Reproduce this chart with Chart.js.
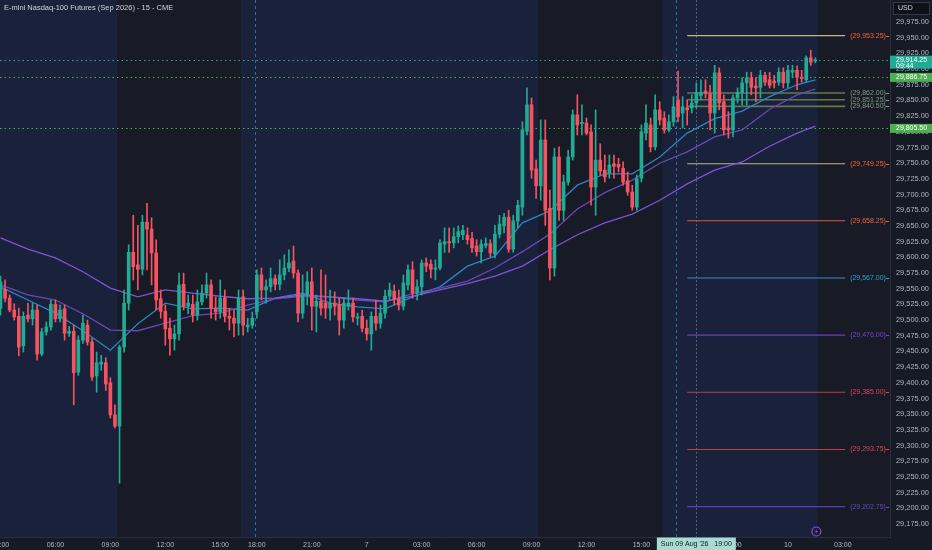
<!DOCTYPE html>
<html>
<head>
<meta charset="utf-8">
<script src="https://cdn.jsdelivr.net/npm/chart.js@4.4.1/dist/chart.umd.min.js"></script>
<style>
  html, body { margin: 0; padding: 0; background: #161a25; }
  canvas { display: block; }
</style>
</head>
<body>
<canvas id="chart" width="932" height="550"></canvas>
<script>
// 15 min bars, Thu 03:00 -> Mon 01:30 (index 0..178)
const opens = [29519,29549,29535,29516,29506,29459,29508,29502,29516,29446,29481,29489,29525,29502,29518,29479,29482,29417,29468,29492,
  29465,29411,29430,29432,29400,29349,29331,29457,29527,29608,29588,29581,29656,29645,29607,29534,29514,29487,29470,29478,
  29557,29522,29525,29508,29529,29543,29556,29519,29513,29535,29506,29503,29495,29537,29489,29492,29513,29572,29548,29553,
  29566,29557,29572,29583,29594,29575,29511,29540,29561,29522,29530,29527,29519,29527,29525,29500,29522,29527,29503,29506,
  29487,29478,29506,29495,29511,29538,29546,29533,29522,29556,29580,29543,29553,29591,29589,29581,29583,29621,29625,29623,
  29633,29636,29635,29630,29618,29609,29619,29622,29605,29637,29650,29664,29613,29658,29680,29801,29843,29741,29714,29787,
  29678,29583,29760,29675,29720,29760,29827,29813,29814,29800,29712,29755,29739,29734,29749,29748,29742,29722,29704,29680,
  29726,29798,29811,29776,29835,29822,29803,29816,29851,29830,29838,29838,29846,29858,29865,29861,29830,29894,29848,29806,
  29803,29854,29863,29878,29886,29873,29871,29890,29883,29881,29879,29895,29878,29895,29898,29887,29883,29918,29913];
const highs = [29570,29564,29540,29526,29519,29513,29527,29527,29524,29487,29497,29532,29532,29524,29524,29490,29492,29475,29508,29500,
  29471,29449,29444,29440,29408,29365,29460,29548,29620,29667,29651,29667,29686,29663,29628,29548,29524,29503,29492,29575,
  29575,29540,29540,29548,29556,29575,29564,29537,29564,29548,29519,29516,29548,29548,29503,29513,29580,29583,29564,29583,
  29572,29596,29604,29612,29618,29580,29572,29577,29583,29540,29580,29572,29548,29545,29535,29535,29548,29535,29511,29516,
  29500,29513,29532,29524,29548,29559,29556,29548,29572,29588,29593,29564,29596,29599,29596,29596,29628,29647,29647,29647,
  29650,29651,29647,29640,29628,29628,29631,29628,29651,29667,29670,29675,29667,29691,29816,29870,29854,29755,29819,29819,
  29707,29774,29776,29731,29771,29835,29859,29843,29822,29811,29835,29781,29763,29763,29763,29758,29752,29736,29715,29731,
  29811,29843,29822,29859,29848,29832,29827,29856,29897,29856,29851,29859,29878,29883,29883,29874,29906,29902,29859,29832,
  29859,29870,29886,29895,29895,29886,29898,29895,29895,29890,29902,29902,29906,29906,29905,29898,29921,29930,29918];
const lows = [29508,29529,29513,29500,29443,29449,29497,29492,29436,29443,29476,29484,29497,29497,29468,29474,29365,29412,29463,29460,
  29404,29385,29420,29388,29344,29328,29240,29449,29516,29564,29548,29572,29580,29556,29516,29503,29460,29444,29452,29468,
  29516,29510,29497,29500,29524,29535,29503,29500,29503,29497,29484,29473,29476,29476,29481,29487,29503,29532,29527,29545,
  29548,29548,29564,29577,29567,29497,29503,29524,29484,29481,29508,29503,29500,29508,29476,29487,29516,29497,29492,29481,
  29468,29452,29484,29487,29503,29532,29524,29516,29516,29548,29535,29532,29540,29577,29567,29564,29580,29608,29608,29615,
  29623,29628,29621,29608,29602,29591,29615,29601,29599,29631,29639,29608,29608,29647,29667,29795,29726,29694,29691,29651,
  29564,29570,29659,29659,29715,29755,29795,29795,29795,29683,29667,29731,29720,29726,29726,29736,29715,29699,29675,29675,
  29720,29787,29768,29771,29811,29798,29800,29809,29816,29806,29811,29830,29838,29851,29854,29803,29798,29835,29795,29790,
  29792,29846,29843,29843,29859,29848,29854,29874,29870,29870,29874,29870,29870,29886,29867,29879,29879,29906,29910];
const closes = [29561,29535,29516,29505,29457,29506,29502,29516,29446,29481,29489,29525,29502,29516,29479,29482,29416,29468,29495,29465,
  29409,29432,29433,29398,29349,29331,29457,29527,29608,29585,29581,29656,29645,29607,29532,29514,29486,29470,29478,29556,
  29522,29527,29508,29529,29543,29556,29519,29513,29535,29506,29503,29495,29535,29492,29492,29503,29572,29548,29553,29566,
  29557,29572,29583,29591,29575,29511,29540,29561,29522,29530,29519,29519,29527,29522,29500,29527,29527,29505,29505,29487,
  29478,29506,29495,29511,29538,29548,29533,29524,29559,29580,29543,29553,29591,29586,29581,29583,29623,29625,29623,29633,
  29641,29643,29628,29615,29609,29621,29622,29607,29637,29653,29664,29613,29658,29683,29803,29843,29739,29714,29787,29675,
  29583,29760,29675,29720,29760,29827,29811,29815,29798,29712,29755,29738,29728,29747,29745,29744,29720,29704,29680,29725,
  29800,29814,29776,29835,29819,29803,29816,29840,29824,29840,29835,29846,29863,29863,29861,29830,29894,29846,29803,29803,
  29854,29863,29878,29886,29871,29870,29890,29879,29874,29878,29895,29878,29898,29898,29887,29885,29918,29911,29914.25];

// moving averages every 6 bars
const maIdx  = [0,6,12,18,24,30,36,42,48,54,60,66,72,78,84,90,96,102,108,114,120,126,132,138,144,150,156,162,168,174,178];
const maFast = [29553,29532,29511,29483,29452,29494,29527,29518,29519,29516,29535,29543,29527,29521,29518,29537,29553,29586,29602,29655,29674,29715,29733,29733,29760,29798,29821,29833,29856,29875,29883];
const maMid  = [29556,29540,29532,29510,29484,29483,29495,29507,29511,29524,29534,29538,29537,29532,29529,29542,29551,29562,29583,29609,29637,29677,29703,29723,29750,29768,29792,29803,29836,29859,29868];
const maSlow = [29631,29613,29599,29577,29551,29537,29548,29543,29538,29534,29535,29540,29537,29534,29530,29538,29548,29558,29570,29586,29612,29636,29655,29669,29691,29717,29739,29752,29777,29798,29809];

const timeTickIdx = [0,12,24,36,48,56,68,80,92,104,116,128,140,148,160,172,184];
const timeTickLabels = ['03:00','06:00','09:00','12:00','15:00','18:00','21:00','7','03:00','06:00','09:00','12:00','15:00','18:00','21:00','10','03:00'];
const priceTicks = [29175,29200,29225,29250,29275,29300,29325,29350,29375,29400,29425,29450,29475,29500,29525,29550,29575,
  29600,29625,29650,29675,29700,29725,29750,29775,29800,29825,29850,29875,29900,29925,29950,29975];

const levelPrices = [29953.25,29862.00,29851.25,29840.50,29749.25,29658.25,29567.00,29476.00,29385.00,29293.75,29202.75];
const levelFrom = 150, levelTo = 184.5;

const lastPrice = 29914.25;
const countdown = '09:44';
const maMarks = [29886.75, 29805.50];

const rthSessions = [[25.5,52.5],[117.5,144.5],[178.5,200]];
const sessionBreaks = [55.5,147.5];
const crosshairIdx = 152;
const crosshairText = "Sun 09 Aug '26   19:00";
const title = 'E-mini Nasdaq-100 Futures (Sep 2026) - 15 - CME';

// styles
const UP = '#22ab94', DOWN = '#f7525f';
const levelLine = ['#bdb983','#66774f','#66774f','#66774f','#bdb983','#e0553f','#2f8bd6','#6a3fc0','#c43a4b','#c43a4b','#5b3cc4'];
const levelText = ['#f0603c','#7f9b80','#7f9b80','#7f9b80','#f0603c','#f0603c','#29a0d8','#6f47c8','#d9455a','#d9455a','#6247c0'];
const FONT = "'Liberation Sans', Arial, sans-serif";
Chart.defaults.font.family = FONT;

function fmt(v) {
  return v.toLocaleString('en-US', {minimumFractionDigits: 2, maximumFractionDigits: 2});
}

const bars = closes.map(function (c, i) { return i; });
const candleColors = closes.map(function (c, i) { return c >= opens[i] ? UP : DOWN; });

const datasets = [];
datasets.push({type: 'bar', data: bars.map(i => ({x: i, y: [opens[i], closes[i]]})),
  backgroundColor: candleColors, barThickness: 3, minBarLength: 1, grouped: false, order: 0});
datasets.push({type: 'bar', data: bars.map(i => ({x: i, y: [lows[i], highs[i]]})),
  backgroundColor: candleColors, barThickness: 1, grouped: false, order: 1});
[[maSlow,'#7f52d9'],[maMid,'#6947b5'],[maFast,'#2a84c6']].forEach(function (m) {
  datasets.push({type: 'line', data: maIdx.map((x, k) => ({x: x, y: m[0][k]})),
    borderColor: m[1], borderWidth: 1.3, pointRadius: 0, order: 3});
});
levelPrices.forEach(function (p, k) {
  datasets.push({type: 'line', data: [{x: levelFrom, y: p}, {x: levelTo, y: p}],
    borderColor: levelLine[k], borderWidth: (k >= 1 && k <= 3) ? 1.6 : 1.1, pointRadius: 0, order: 4});
});

const sessionPlugin = {
  id: 'sessions',
  beforeDraw(chart) {
    const ctx = chart.ctx, a = chart.chartArea, xs = chart.scales.x;
    ctx.save();
    ctx.fillStyle = '#161a25';
    ctx.fillRect(0, 0, chart.width, chart.height);
    ctx.fillStyle = '#19223a';
    ctx.fillRect(a.left, a.top, a.right - a.left, a.bottom - a.top);
    ctx.fillStyle = '#181b26';
    rthSessions.forEach(function (s) {
      const x1 = Math.max(a.left, xs.getPixelForValue(s[0]));
      const x2 = Math.min(a.right, xs.getPixelForValue(s[1]));
      ctx.fillRect(x1, a.top, x2 - x1, a.bottom - a.top);
    });
    ctx.restore();
  },
  beforeDatasetsDraw(chart) {
    const ctx = chart.ctx, a = chart.chartArea, xs = chart.scales.x, ys = chart.scales.y;
    ctx.save();
    ctx.lineWidth = 1;
    ctx.strokeStyle = '#2b6ea6';
    ctx.setLineDash([3, 3]);
    sessionBreaks.forEach(function (b) {
      const x = Math.round(xs.getPixelForValue(b)) + 0.5;
      ctx.beginPath(); ctx.moveTo(x, a.top); ctx.lineTo(x, a.bottom); ctx.stroke();
    });
    ctx.strokeStyle = '#4f5d78';
    ctx.setLineDash([2, 2]);
    const cx = Math.round(xs.getPixelForValue(crosshairIdx)) + 0.5;
    ctx.beginPath(); ctx.moveTo(cx, a.top); ctx.lineTo(cx, a.bottom); ctx.stroke();
    // price lines
    ctx.setLineDash([1.5, 3]);
    ctx.strokeStyle = UP;
    let y = Math.round(ys.getPixelForValue(lastPrice)) + 0.5;
    ctx.beginPath(); ctx.moveTo(a.left, y); ctx.lineTo(a.right, y); ctx.stroke();
    ctx.strokeStyle = '#4caf50';
    maMarks.forEach(function (p) {
      const yy = Math.round(ys.getPixelForValue(p)) + 0.5;
      ctx.beginPath(); ctx.moveTo(a.left, yy); ctx.lineTo(a.right, yy); ctx.stroke();
    });
    ctx.restore();
  },
  afterDraw(chart) {
    const ctx = chart.ctx, a = chart.chartArea, xs = chart.scales.x, ys = chart.scales.y;
    ctx.save();
    // level labels
    ctx.font = '7px ' + FONT;
    ctx.textBaseline = 'middle';
    ctx.textAlign = 'left';
    const lx = xs.getPixelForValue(levelTo) + 5;
    levelPrices.forEach(function (p, k) {
      const y = ys.getPixelForValue(p);
      ctx.fillStyle = levelText[k];
      ctx.fillText('(' + fmt(p) + ')', lx, y);
      ctx.fillRect(a.right - 4, Math.round(y), 3, 1);
    });
    // axis price tags
    ctx.font = '7px ' + FONT;
    maMarks.forEach(function (p) {
      const y = ys.getPixelForValue(p);
      ctx.fillStyle = '#4caf50';
      ctx.fillRect(a.right, y - 4.5, chart.width - a.right, 9);
      ctx.fillStyle = '#ffffff';
      ctx.fillText(fmt(p), a.right + 6, y);
    });
    const py = ys.getPixelForValue(lastPrice);
    ctx.fillStyle = UP;
    ctx.fillRect(a.right, py - 4.5, chart.width - a.right, 13);
    ctx.fillStyle = '#ffffff';
    ctx.fillText(fmt(lastPrice), a.right + 6, py);
    ctx.fillText(countdown, a.right + 6, py + 6);
    // USD box
    ctx.fillStyle = '#0e1118';
    ctx.fillRect(893.5, 2.5, 36, 12);
    ctx.strokeStyle = '#363a45';
    ctx.lineWidth = 1;
    ctx.strokeRect(893.5, 2.5, 36, 12);
    ctx.fillStyle = '#d1d4dc';
    ctx.fillText('USD', 898, 8.5);
    // crosshair time tag
    const cx = xs.getPixelForValue(crosshairIdx);
    ctx.fillStyle = '#a9dbd2';
    ctx.fillRect(cx - 39.5, a.bottom + 0.5, 79, chart.height - a.bottom);
    ctx.fillStyle = '#131722';
    ctx.textAlign = 'center';
    ctx.fillText(crosshairText, cx, a.bottom + 7);
    // title
    ctx.textAlign = 'left';
    ctx.font = '7.5px ' + FONT;
    ctx.fillStyle = '#d1d4dc';
    ctx.fillText(title, 4, 7.5);
    // lightning badge
    const bx = xs.getPixelForValue(closes.length - 1) + 1, by = a.bottom - 5.5;
    ctx.strokeStyle = '#8a4fe0';
    ctx.lineWidth = 1.2;
    ctx.beginPath(); ctx.arc(bx, by, 4.5, 0, Math.PI * 2); ctx.stroke();
    ctx.fillStyle = '#8a4fe0';
    ctx.beginPath();
    ctx.moveTo(bx + 1, by - 3); ctx.lineTo(bx - 1.5, by + 0.5); ctx.lineTo(bx + 0.2, by + 0.5);
    ctx.lineTo(bx - 1, by + 3); ctx.lineTo(bx + 1.6, by - 0.5); ctx.lineTo(bx - 0.2, by - 0.5);
    ctx.closePath(); ctx.fill();
    ctx.restore();
  }
};

new Chart(document.getElementById('chart'), {
  type: 'bar',
  data: {datasets: datasets},
  options: {
    responsive: false,
    animation: false,
    layout: {padding: 0},
    plugins: {legend: {display: false}, tooltip: {enabled: false}},
    scales: {
      x: {
        type: 'linear', min: -0.11, max: 194.3, offset: false,
        grid: {display: false, drawTicks: false},
        border: {display: true, color: '#2a2e39'},
        ticks: {
          color: '#b2b5be', font: {size: 7}, maxRotation: 0, autoSkip: false, padding: 4,
          callback: function (v) { const k = timeTickIdx.indexOf(v); return k < 0 ? '' : timeTickLabels[k]; }
        },
        afterBuildTicks: function (s) { s.ticks = timeTickIdx.map(v => ({value: v})); },
        afterFit: function (s) { s.height = 13; s.paddingLeft = 0; s.paddingRight = 0; }
      },
      y: {
        position: 'right', min: 29154.3, max: 30010.1,
        grid: {display: false, drawTicks: false},
        border: {display: true, color: '#2a2e39'},
        ticks: {color: '#b2b5be', font: {size: 7.4}, padding: 6, callback: function (v) { return fmt(v); }},
        afterBuildTicks: function (s) { s.ticks = priceTicks.map(v => ({value: v})); },
        afterFit: function (s) { s.width = 42; s.paddingTop = 0; s.paddingBottom = 0; }
      }
    }
  },
  plugins: [sessionPlugin]
});
</script>
</body>
</html>
